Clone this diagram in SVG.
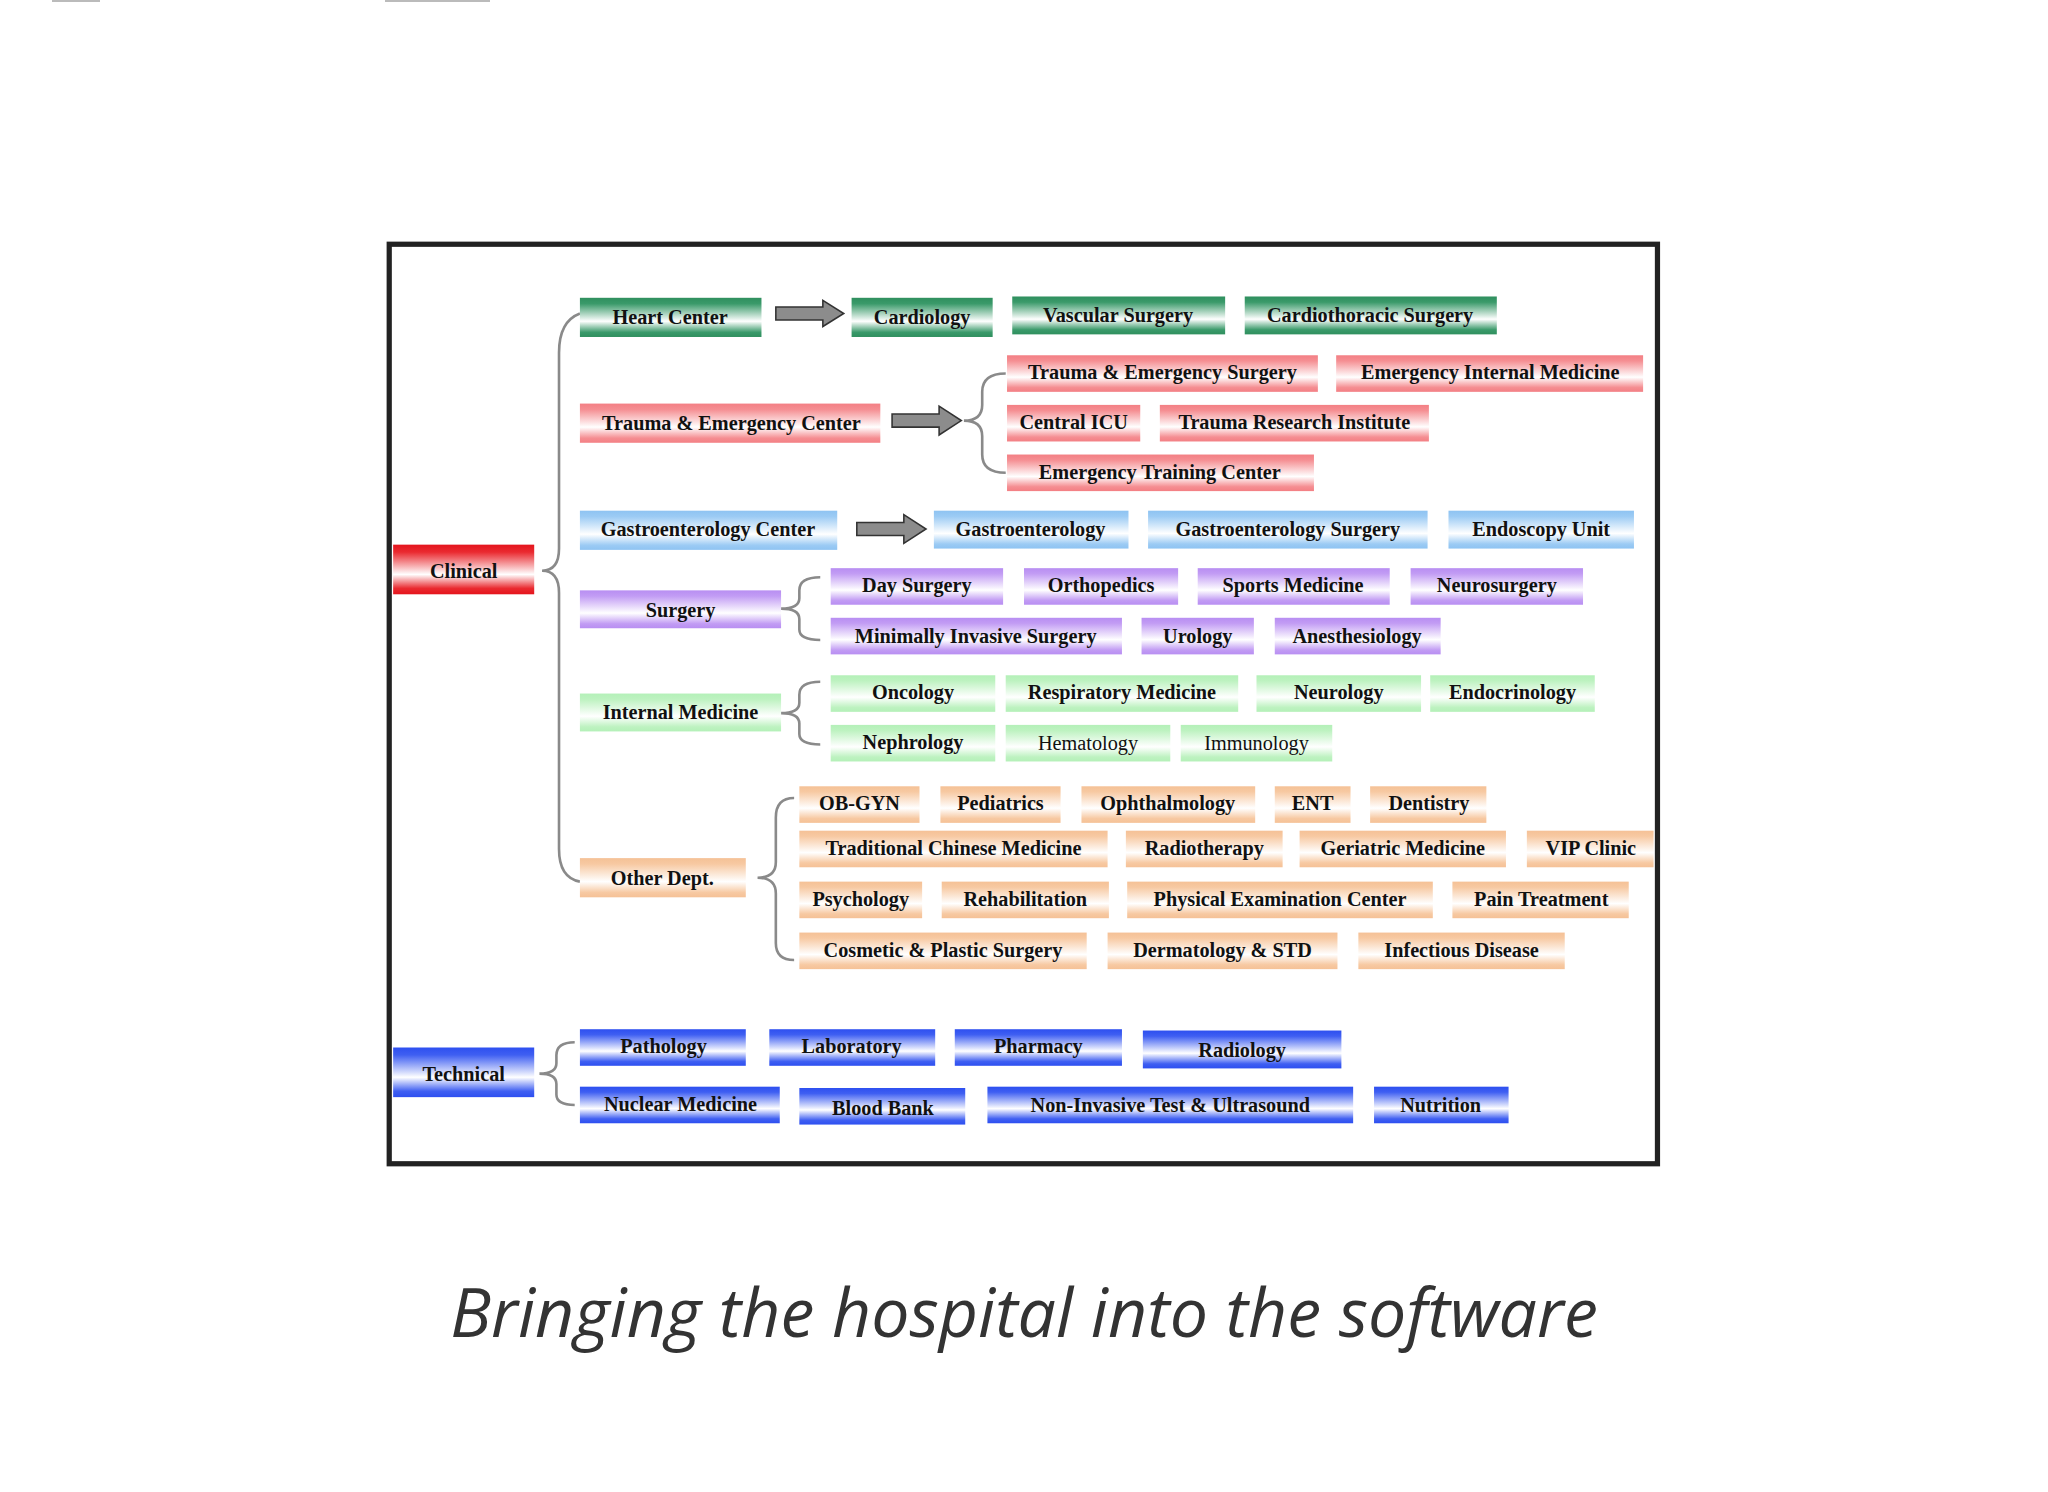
<svg xmlns="http://www.w3.org/2000/svg" width="2048" height="1492" viewBox="0 0 2048 1492">
<defs>
<linearGradient id="gG" x1="0" y1="0" x2="0" y2="1"><stop offset="0" stop-color="#2f8f5e"/><stop offset="0.15" stop-color="#3a9a6a"/><stop offset="0.6" stop-color="#fff"/><stop offset="0.88" stop-color="#3a9a6a"/><stop offset="1" stop-color="#2f8f5e"/></linearGradient>
<linearGradient id="gR" x1="0" y1="0" x2="0" y2="1"><stop offset="0" stop-color="#f37f84"/><stop offset="0.15" stop-color="#f58e92"/><stop offset="0.6" stop-color="#fff"/><stop offset="0.88" stop-color="#f58e92"/><stop offset="1" stop-color="#f37f84"/></linearGradient>
<linearGradient id="gC" x1="0" y1="0" x2="0" y2="1"><stop offset="0" stop-color="#e4141c"/><stop offset="0.15" stop-color="#ea2a30"/><stop offset="0.6" stop-color="#fff"/><stop offset="0.88" stop-color="#ea2a30"/><stop offset="1" stop-color="#e4141c"/></linearGradient>
<linearGradient id="gB" x1="0" y1="0" x2="0" y2="1"><stop offset="0" stop-color="#8ec3f2"/><stop offset="0.15" stop-color="#9ccbf4"/><stop offset="0.6" stop-color="#fff"/><stop offset="0.88" stop-color="#9ccbf4"/><stop offset="1" stop-color="#8ec3f2"/></linearGradient>
<linearGradient id="gP" x1="0" y1="0" x2="0" y2="1"><stop offset="0" stop-color="#b88ef2"/><stop offset="0.15" stop-color="#c29cf4"/><stop offset="0.6" stop-color="#fff"/><stop offset="0.88" stop-color="#c29cf4"/><stop offset="1" stop-color="#b88ef2"/></linearGradient>
<linearGradient id="gL" x1="0" y1="0" x2="0" y2="1"><stop offset="0" stop-color="#b4f0b8"/><stop offset="0.15" stop-color="#bdf2c0"/><stop offset="0.6" stop-color="#fff"/><stop offset="0.88" stop-color="#bdf2c0"/><stop offset="1" stop-color="#b4f0b8"/></linearGradient>
<linearGradient id="gO" x1="0" y1="0" x2="0" y2="1"><stop offset="0" stop-color="#f5c196"/><stop offset="0.15" stop-color="#f7c9a2"/><stop offset="0.6" stop-color="#fff"/><stop offset="0.88" stop-color="#f7c9a2"/><stop offset="1" stop-color="#f5c196"/></linearGradient>
<linearGradient id="gT" x1="0" y1="0" x2="0" y2="1"><stop offset="0" stop-color="#2d4ff0"/><stop offset="0.15" stop-color="#3f5ff2"/><stop offset="0.6" stop-color="#fff"/><stop offset="0.88" stop-color="#3f5ff2"/><stop offset="1" stop-color="#2d4ff0"/></linearGradient>
</defs>
<style>
text{font-family:"Liberation Serif","Times New Roman",serif;font-weight:bold;font-size:15.5px;fill:#111;text-anchor:middle;dominant-baseline:central}
.br{fill:none;stroke:#8a8a8a;stroke-width:2}
.ar{fill:#8c8c8c;stroke:#333;stroke-width:1.2}
.g rect{stroke:none}
.cap{font-family:"Open Sans","Noto Sans",sans-serif;font-style:italic;font-weight:normal;font-size:68px;fill:#333}
</style>
<rect width="2048" height="1492" fill="#fff"/>
<line x1="52" y1="1" x2="100" y2="1" stroke="#bbb" stroke-width="2"/>
<line x1="385" y1="1" x2="490" y2="1" stroke="#bbb" stroke-width="2"/>
<g transform="scale(1.30612)">
<rect x="298" y="187" width="971" height="704" fill="#fff" stroke="#222" stroke-width="4"/>
<g id="connectors">
<path class="br" d="M444 240 Q428 246 428 270 L428 420 Q428 437 415 437 Q428 437 428 454 L428 650 Q428 672 444 675"/>
<path class="br" d="M770 286 Q752 286 752 300 L752 310 Q752 322 738 322 Q752 322 752 334 L752 348 Q752 362 770 362"/>
<path class="br" d="M628 442 Q612 442 612 452 L612 458 Q612 466 598 466 Q612 466 612 474 L612 482 Q612 490 628 490"/>
<path class="br" d="M628 522 Q612 522 612 532 L612 538 Q612 546 598 546 Q612 546 612 554 L612 562 Q612 570 628 570"/>
<path class="br" d="M608 611 Q594 611 594 626 L594 660 Q594 672 580 672 Q594 672 594 684 L594 722 Q594 735 608 735"/>
<path class="br" d="M440 798 Q426 798 426 808 L426 814 Q426 822 413 822 Q426 822 426 830 L426 838 Q426 846 440 846"/>
<polygon class="ar" points="594,235 630,235 630,230 646,240 630,250 630,245 594,245"/>
<polygon class="ar" points="683,317 719,317 719,311 736,322 719,333 719,327 683,327"/>
<polygon class="ar" points="656,400 692,400 692,394 709,405 692,416 692,410 656,410"/>
</g>
<g id="n-clinical" class="g"><rect x="301" y="417" width="108" height="38" fill="url(#gC)"/><text x="355" y="437">Clinical</text></g>
<g id="n-technical" class="g"><rect x="301" y="802" width="108" height="38" fill="url(#gT)"/><text x="355" y="822">Technical</text></g>
<g id="n-heart" class="g"><rect x="444" y="228" width="139" height="30" fill="url(#gG)"/><text x="513" y="243">Heart Center</text></g>
<g id="n-cardio" class="g"><rect x="652" y="228" width="108" height="30" fill="url(#gG)"/><text x="706" y="243">Cardiology</text></g>
<g id="n-vasc" class="g"><rect x="775" y="227" width="163" height="29" fill="url(#gG)"/><text x="856" y="241">Vascular Surgery</text></g>
<g id="n-cts" class="g"><rect x="953" y="227" width="193" height="29" fill="url(#gG)"/><text x="1049" y="241">Cardiothoracic Surgery</text></g>
<g id="n-tec" class="g"><rect x="444" y="309" width="230" height="30" fill="url(#gR)"/><text x="560" y="324">Trauma &amp; Emergency Center</text></g>
<g id="n-tes" class="g"><rect x="771" y="272" width="238" height="28" fill="url(#gR)"/><text x="890" y="285">Trauma &amp; Emergency Surgery</text></g>
<g id="n-eim" class="g"><rect x="1023" y="272" width="235" height="28" fill="url(#gR)"/><text x="1141" y="285">Emergency Internal Medicine</text></g>
<g id="n-icu" class="g"><rect x="771" y="310" width="102" height="28" fill="url(#gR)"/><text x="822" y="323">Central ICU</text></g>
<g id="n-tri" class="g"><rect x="888" y="310" width="206" height="28" fill="url(#gR)"/><text x="991" y="323">Trauma Research Institute</text></g>
<g id="n-etc" class="g"><rect x="771" y="348" width="235" height="28" fill="url(#gR)"/><text x="888" y="361">Emergency Training Center</text></g>
<g id="n-gc" class="g"><rect x="444" y="391" width="197" height="30" fill="url(#gB)"/><text x="542" y="405">Gastroenterology Center</text></g>
<g id="n-ge" class="g"><rect x="715" y="391" width="149" height="29" fill="url(#gB)"/><text x="789" y="405">Gastroenterology</text></g>
<g id="n-gs" class="g"><rect x="879" y="391" width="214" height="29" fill="url(#gB)"/><text x="986" y="405">Gastroenterology Surgery</text></g>
<g id="n-eu" class="g"><rect x="1109" y="391" width="142" height="29" fill="url(#gB)"/><text x="1180" y="405">Endoscopy Unit</text></g>
<g id="n-surg" class="g"><rect x="444" y="452" width="154" height="29" fill="url(#gP)"/><text x="521" y="467">Surgery</text></g>
<g id="n-day" class="g"><rect x="636" y="435" width="132" height="28" fill="url(#gP)"/><text x="702" y="448">Day Surgery</text></g>
<g id="n-ortho" class="g"><rect x="784" y="435" width="118" height="28" fill="url(#gP)"/><text x="843" y="448">Orthopedics</text></g>
<g id="n-sport" class="g"><rect x="917" y="435" width="147" height="28" fill="url(#gP)"/><text x="990" y="448">Sports Medicine</text></g>
<g id="n-neuros" class="g"><rect x="1080" y="435" width="132" height="28" fill="url(#gP)"/><text x="1146" y="448">Neurosurgery</text></g>
<g id="n-mis" class="g"><rect x="636" y="473" width="223" height="28" fill="url(#gP)"/><text x="747" y="487">Minimally Invasive Surgery</text></g>
<g id="n-uro" class="g"><rect x="874" y="473" width="86" height="28" fill="url(#gP)"/><text x="917" y="487">Urology</text></g>
<g id="n-anes" class="g"><rect x="976" y="473" width="127" height="28" fill="url(#gP)"/><text x="1039" y="487">Anesthesiology</text></g>
<g id="n-im" class="g"><rect x="444" y="531" width="154" height="29" fill="url(#gL)"/><text x="521" y="545">Internal Medicine</text></g>
<g id="n-onc" class="g"><rect x="636" y="517" width="126" height="28" fill="url(#gL)"/><text x="699" y="530">Oncology</text></g>
<g id="n-resp" class="g"><rect x="770" y="517" width="178" height="28" fill="url(#gL)"/><text x="859" y="530">Respiratory Medicine</text></g>
<g id="n-neuro" class="g"><rect x="962" y="517" width="126" height="28" fill="url(#gL)"/><text x="1025" y="530">Neurology</text></g>
<g id="n-endo" class="g"><rect x="1095" y="517" width="126" height="28" fill="url(#gL)"/><text x="1158" y="530">Endocrinology</text></g>
<g id="n-neph" class="g"><rect x="636" y="555" width="126" height="28" fill="url(#gL)"/><text x="699" y="568">Nephrology</text></g>
<g id="n-hema" class="g"><rect x="770" y="555" width="126" height="28" fill="url(#gL)"/><text x="833" y="569" style="font-weight:normal">Hematology</text></g>
<g id="n-immu" class="g"><rect x="904" y="555" width="116" height="28" fill="url(#gL)"/><text x="962" y="569" style="font-weight:normal">Immunology</text></g>
<g id="n-other" class="g"><rect x="444" y="657" width="127" height="30" fill="url(#gO)"/><text x="507" y="672">Other Dept.</text></g>
<g id="n-ob" class="g"><rect x="612" y="602" width="92" height="28" fill="url(#gO)"/><text x="658" y="615">OB-GYN</text></g>
<g id="n-ped" class="g"><rect x="720" y="602" width="92" height="28" fill="url(#gO)"/><text x="766" y="615">Pediatrics</text></g>
<g id="n-oph" class="g"><rect x="828" y="602" width="133" height="28" fill="url(#gO)"/><text x="894" y="615">Ophthalmology</text></g>
<g id="n-ent" class="g"><rect x="976" y="602" width="58" height="28" fill="url(#gO)"/><text x="1005" y="615">ENT</text></g>
<g id="n-dent" class="g"><rect x="1049" y="602" width="89" height="28" fill="url(#gO)"/><text x="1094" y="615">Dentistry</text></g>
<g id="n-tcm" class="g"><rect x="612" y="636" width="236" height="28" fill="url(#gO)"/><text x="730" y="649">Traditional Chinese Medicine</text></g>
<g id="n-radt" class="g"><rect x="862" y="636" width="120" height="28" fill="url(#gO)"/><text x="922" y="649">Radiotherapy</text></g>
<g id="n-ger" class="g"><rect x="995" y="636" width="158" height="28" fill="url(#gO)"/><text x="1074" y="649">Geriatric Medicine</text></g>
<g id="n-vip" class="g"><rect x="1169" y="636" width="97" height="28" fill="url(#gO)"/><text x="1218" y="649">VIP Clinic</text></g>
<g id="n-psy" class="g"><rect x="612" y="675" width="94" height="28" fill="url(#gO)"/><text x="659" y="688">Psychology</text></g>
<g id="n-rehab" class="g"><rect x="721" y="675" width="128" height="28" fill="url(#gO)"/><text x="785" y="688">Rehabilitation</text></g>
<g id="n-pec" class="g"><rect x="863" y="675" width="234" height="28" fill="url(#gO)"/><text x="980" y="688">Physical Examination Center</text></g>
<g id="n-pain" class="g"><rect x="1112" y="675" width="135" height="28" fill="url(#gO)"/><text x="1180" y="688">Pain Treatment</text></g>
<g id="n-cos" class="g"><rect x="612" y="714" width="220" height="28" fill="url(#gO)"/><text x="722" y="727">Cosmetic &amp; Plastic Surgery</text></g>
<g id="n-derm" class="g"><rect x="848" y="714" width="176" height="28" fill="url(#gO)"/><text x="936" y="727">Dermatology &amp; STD</text></g>
<g id="n-inf" class="g"><rect x="1040" y="714" width="158" height="28" fill="url(#gO)"/><text x="1119" y="727">Infectious Disease</text></g>
<g id="n-path" class="g"><rect x="444" y="788" width="127" height="28" fill="url(#gT)"/><text x="508" y="801">Pathology</text></g>
<g id="n-lab" class="g"><rect x="589" y="788" width="127" height="28" fill="url(#gT)"/><text x="652" y="801">Laboratory</text></g>
<g id="n-pharm" class="g"><rect x="731" y="788" width="128" height="28" fill="url(#gT)"/><text x="795" y="801">Pharmacy</text></g>
<g id="n-radi" class="g"><rect x="875" y="789" width="152" height="29" fill="url(#gT)"/><text x="951" y="804">Radiology</text></g>
<g id="n-nuc" class="g"><rect x="444" y="832" width="153" height="28" fill="url(#gT)"/><text x="521" y="845">Nuclear Medicine</text></g>
<g id="n-blood" class="g"><rect x="612" y="833" width="127" height="28" fill="url(#gT)"/><text x="676" y="848">Blood Bank</text></g>
<g id="n-nit" class="g"><rect x="756" y="832" width="280" height="28" fill="url(#gT)"/><text x="896" y="846">Non-Invasive Test &amp; Ultrasound</text></g>
<g id="n-nutr" class="g"><rect x="1052" y="832" width="103" height="28" fill="url(#gT)"/><text x="1103" y="846">Nutrition</text></g>
</g>
<text class="cap" x="1024" y="1310">Bringing the hospital into the software</text>
</svg>
